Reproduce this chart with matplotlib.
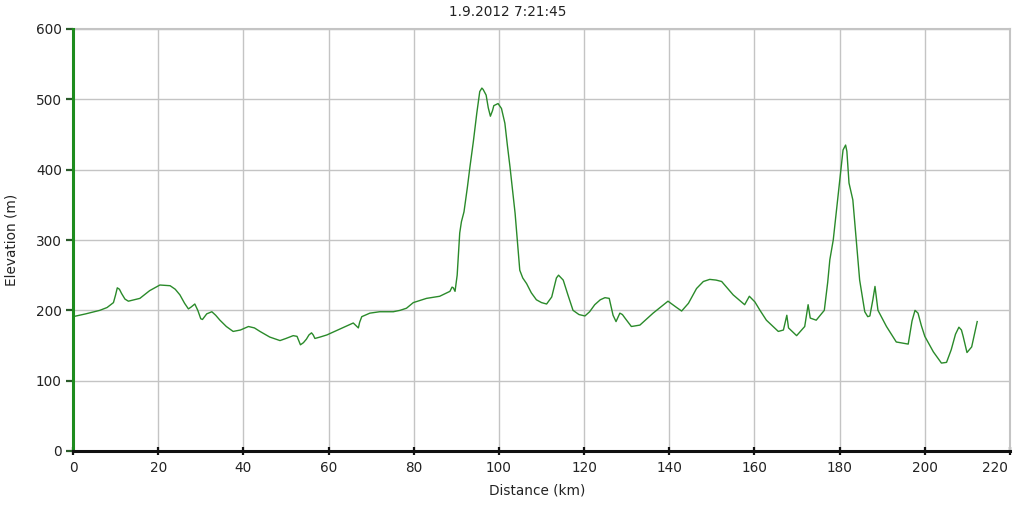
import matplotlib
matplotlib.use("Agg")
import matplotlib.pyplot as plt

# Data (distance in km, elevation in m)
distance_km = [0, 3, 6.3, 8, 9.5, 10.0, 10.4, 10.9, 11.4, 12.2, 13, 15.7, 18, 20.4, 22.8, 24, 25.1,
               26.2, 27.1, 27.8, 28.6, 29.3, 30.0, 30.4, 31.4, 32.6, 33.5, 34.5, 36, 37.6, 39.3,
               41.2, 42.6, 43.9, 46.2, 48.6, 50, 51.7, 52.6, 53.4, 54.1, 54.8, 55.4, 56, 56.4,
               56.8, 58, 59.6, 62.5, 65, 65.8, 66.5, 67, 67.3, 67.8, 69.7, 72, 75.2, 76.8, 78.3,
               79.9, 83, 86.1, 88.5, 89.0, 89.3, 89.7, 90.2, 90.8, 91.2, 91.8, 92.6, 93.2, 94.0,
               94.8, 95.5, 96.0, 96.3, 97, 97.5, 98, 98.5, 98.8, 99.8, 100.6, 101.4, 102.0, 102.6,
               103.8, 104.9, 105.6, 106.5, 107.6, 108.8, 110, 111.2, 112.4, 113.5, 114, 115.1,
               116.2, 117.4, 118.8, 120.2, 121.3, 122.5, 123.8, 124.9, 125.9, 126.8, 127.5, 128.4,
               129.0, 129.6, 131.1, 133.1, 136.2, 139.7, 141.5, 142.9, 144.5, 146.4, 148, 149.5,
               151, 152.3, 155, 157.7, 158.8, 160.1, 161.3, 162.8, 165.6, 166.8, 167.3, 167.6,
               168, 169.9, 171.8, 172.6, 173.1, 174.5, 176.4, 177.2, 177.7, 178.5, 179.3, 180,
               180.8, 181.4, 181.7, 182.2, 183.1, 183.9, 184.7, 185.9, 186.6, 187.1, 187.8, 188.3,
               189.0, 191.0, 193.3, 196.1, 197.0, 197.7, 198.4, 199.2, 200, 202, 203.9, 205.1,
               206.2, 207.2, 208, 208.6, 209.0, 209.9, 211, 212.3]
elevation_m = [191, 195, 200, 204, 211, 222, 232, 230, 224, 216, 213, 217, 228, 236, 235, 230, 222,
               210, 202, 205, 209, 200, 188, 187, 195, 198, 193, 186, 177, 170, 172,
               177, 175, 170, 162, 157, 160, 164, 163, 151, 154, 159, 165, 168, 165,
               160, 162, 165, 173, 180, 182, 178, 175, 183, 191, 196, 198, 198, 200, 203,
               211, 217, 220, 227, 233, 232, 227, 250, 310, 326, 340, 375, 404, 440,
               480, 511, 516, 514, 506, 488, 476, 484, 491, 494, 487, 466, 434, 404,
               338, 257, 246, 238, 225, 215, 211, 209, 219, 246, 250, 243,
               222, 200, 194, 192, 198, 208, 215, 218, 217, 193, 184, 196,
               194, 189, 177, 179, 196, 213, 205, 199, 210, 231, 241, 244,
               243, 241, 222, 208, 220, 212, 200, 186, 170, 172, 185, 193,
               175, 164, 177, 208, 189, 186, 200, 240, 272, 300, 345, 385,
               428, 435, 426, 381, 357, 300, 243, 198, 191, 192, 215, 234,
               200, 177, 155, 152, 185, 200, 196, 178, 163, 141, 125, 126,
               144, 166, 176, 172, 163, 140, 148, 184]

x_ticks = [0, 20, 40, 60, 80, 100, 120, 140, 160, 180, 200, 220]
y_ticks = [0, 100, 200, 300, 400, 500, 600]
title = "1.9.2012 7:21:45"
x_label = "Distance (km)"
y_label = "Elevation (m)"

W, H = 1016, 525
fig = plt.figure(figsize=(W / 100, H / 100), dpi=100)
fig.patch.set_facecolor("white")
ax = fig.add_axes([73 / W, 1 - 451 / H, (1010 - 73) / W, (451 - 29) / H])

ax.plot(distance_km, elevation_m, color="#2a8a2a", linewidth=1.0, zorder=3)

ax.set_xlim(0, 220)
ax.set_ylim(0, 600)
ax.set_xticks(x_ticks)
ax.set_yticks(y_ticks)
ax.grid(True, color="#c4c4c4", linewidth=1.0, zorder=0)
ax.set_axisbelow(True)

for side in ["top", "right"]:
    ax.spines[side].set_color("#c4c4c4")
    ax.spines[side].set_linewidth(1.5)
ax.spines["left"].set_color("#1e8c1e")
ax.spines["left"].set_linewidth(2.2)
ax.spines["bottom"].set_color("#111111")
ax.spines["bottom"].set_linewidth(2.2)
ax.spines["left"].set_zorder(5)
ax.spines["bottom"].set_zorder(5)

ax.tick_params(axis="x", direction="inout", length=6, width=1.6, color="#111111",
               labelsize=9.8, pad=4, labelcolor="#222222")
ax.tick_params(axis="y", direction="out", length=5, width=1.6, color="#2a5a2a",
               labelsize=9.8, pad=3, labelcolor="#222222")

# Keep the last x tick label inside the figure (as in the reference)
fig.canvas.draw()
last_label = ax.get_xticklabels()[-1]
last_label.set_horizontalalignment("right")
last_label.set_x(220)
import matplotlib.transforms as mtransforms
offset = mtransforms.ScaledTranslation(-2 / 100, 0, fig.dpi_scale_trans)
last_label.set_transform(last_label.get_transform() + offset)

fig.text(508 / W, 1 - 12 / H, title, ha="center", va="center", fontsize=9.8, color="#222222")
fig.text(537 / W, 1 - 491 / H, x_label, ha="center", va="center", fontsize=9.8, color="#222222")
fig.text(12 / W, 1 - 240 / H, y_label, ha="center", va="center", rotation=90,
         fontsize=9.8, color="#222222")

fig.savefig("out.png", dpi=100, facecolor="white")
